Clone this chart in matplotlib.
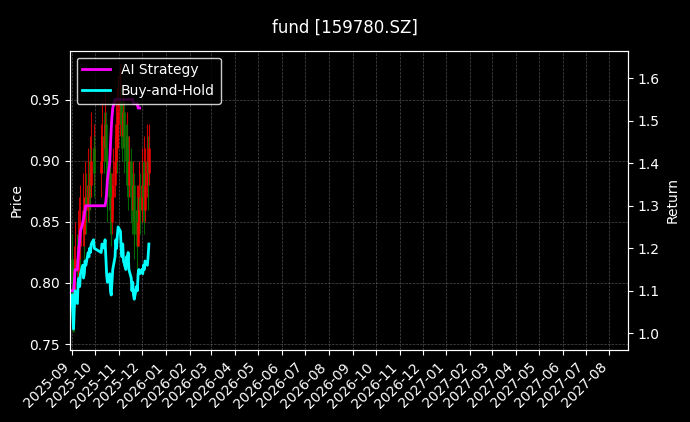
import matplotlib
matplotlib.use("Agg")
import matplotlib.pyplot as plt
import matplotlib.dates as mdates
import numpy as np
import pandas as pd

dates = pd.bdate_range("2025-09-01", "2025-12-10")
dates = dates[~((dates >= "2025-10-01") & (dates <= "2025-10-08"))]

closes = [0.80,0.79,0.78,0.81,0.82,0.81,0.83,0.84,0.83,0.85,0.86,0.84,0.85,0.87,0.86,0.88,0.87,0.89,0.88,0.90,0.91,0.89,
          0.90,0.92,0.91,0.93,0.90,0.88,0.87,0.89,0.86,0.85,0.87,0.88,0.90,0.92,0.91,0.93,0.94,
          0.95,0.93,0.92,0.94,0.91,0.90,0.92,0.89,0.88,0.90,0.87,0.86,0.88,0.85,0.84,0.86,0.83,0.85,0.87,0.86,
          0.88,0.87,0.89,0.86,0.88,0.90,0.89,0.91]
opens = [0.82]+closes[:-1]
highs = [0.84,0.82,0.80,0.83,0.85,0.84,0.86,0.87,0.85,0.88,0.89,0.87,0.87,0.90,0.89,0.91,0.90,0.92,0.91,0.94,0.93,0.92,
         0.93,0.95,0.94,0.96,0.94,0.91,0.90,0.92,0.90,0.88,0.89,0.91,0.93,0.95,0.94,0.96,0.97,
         0.98,0.96,0.95,0.96,0.95,0.93,0.94,0.93,0.91,0.92,0.91,0.89,0.90,0.89,0.87,0.88,0.87,0.88,0.90,0.89,
         0.91,0.90,0.92,0.90,0.91,0.93,0.92,0.93]
lows = [0.77,0.76,0.76,0.77,0.79,0.79,0.80,0.81,0.81,0.82,0.83,0.82,0.83,0.84,0.84,0.85,0.85,0.86,0.86,0.87,0.88,0.87,
        0.87,0.89,0.89,0.90,0.88,0.86,0.85,0.86,0.84,0.83,0.84,0.86,0.87,0.89,0.89,0.90,0.91,
        0.92,0.91,0.90,0.91,0.89,0.88,0.89,0.87,0.86,0.87,0.85,0.84,0.85,0.83,0.82,0.83,0.81,0.83,0.84,0.84,
        0.85,0.85,0.86,0.84,0.85,0.87,0.86,0.88]
hold = [1.09,1.05,1.01,1.06,1.10,1.07,1.12,1.13,1.11,1.14,1.16,1.13,1.14,1.17,1.16,1.19,1.18,1.20,1.19,1.21,1.22,1.20,
        1.19,1.21,1.20,1.22,1.18,1.14,1.12,1.14,1.10,1.09,1.12,1.15,1.18,1.22,1.20,1.23,1.25,
        1.24,1.20,1.18,1.21,1.17,1.15,1.18,1.16,1.19,1.15,1.13,1.10,1.12,1.09,1.08,1.11,1.10,1.14,1.15,1.14,
        1.15,1.14,1.16,1.15,1.17,1.16,1.18,1.21]
strategy = [1.10,1.10,1.10,1.12,1.15,1.15,1.18,1.20,1.22,1.24,1.26,1.27,1.28,1.29,1.30,1.30,1.30,1.30,1.30,1.30,1.30,1.30,
            1.30,1.30,1.30,1.30,1.31,1.33,1.36,1.40,1.44,1.48,1.51,1.53,1.55,1.55,1.55,1.55,1.55,
            1.55,1.55,1.55,1.55,1.55,1.55,1.55,1.55,1.55,1.55,1.55,1.55,1.55,1.54,1.54,1.54,1.54,1.53,1.53,1.53,
            np.nan,np.nan,np.nan,np.nan,np.nan,np.nan,np.nan,np.nan]
n = min(len(dates), len(closes), len(hold), len(strategy))
dates = dates[:n]

plt.rcParams['font.family'] = ['DejaVu Sans']
plt.rcParams['font.size'] = 10
fig = plt.figure(figsize=(6.9, 4.22), dpi=100, facecolor='black')
ax = fig.add_axes([0.101, 0.17, 0.809, 0.71], facecolor='black')
ax2 = ax.twinx()

for d, o, h, l, c in zip(dates, opens, highs, lows, closes):
    col = 'red' if c >= o else 'green'
    ax.vlines(d, l, h, color=col, linewidth=0.8, alpha=0.8)
    ax.vlines(d, min(o, c), max(o, c), color=col, linewidth=2, alpha=0.8)

ax2.plot(dates, strategy[:n], color='magenta', lw=2, label='AI Strategy')
ax2.plot(dates, hold[:n], color='cyan', lw=2, label='Buy-and-Hold')

ax.set_ylim(0.745, 0.99)
ax2.set_ylim(0.96, 1.665)
ax.set_xlim(pd.Timestamp("2025-08-29"), pd.Timestamp("2027-08-25"))
ax.xaxis.set_major_locator(mdates.MonthLocator())
ax.xaxis.set_major_formatter(mdates.DateFormatter('%Y-%m'))
plt.setp(ax.get_xticklabels(), rotation=45, ha='right')
ax.grid(True, color='gray', linestyle='--', linewidth=0.5, alpha=0.6)
for a in (ax, ax2):
    a.tick_params(colors='white')
    for s in a.spines.values():
        s.set_color('white')
ax.set_ylabel('Price', color='white')
ax2.set_ylabel('Return', color='white')
fig.suptitle('fund [159780.SZ]', color='white', y=0.955, fontsize=12)
leg = ax2.legend(loc='upper left', facecolor='black', edgecolor='white', labelcolor='white', fontsize=10)
fig.savefig('out.png', facecolor='black')
